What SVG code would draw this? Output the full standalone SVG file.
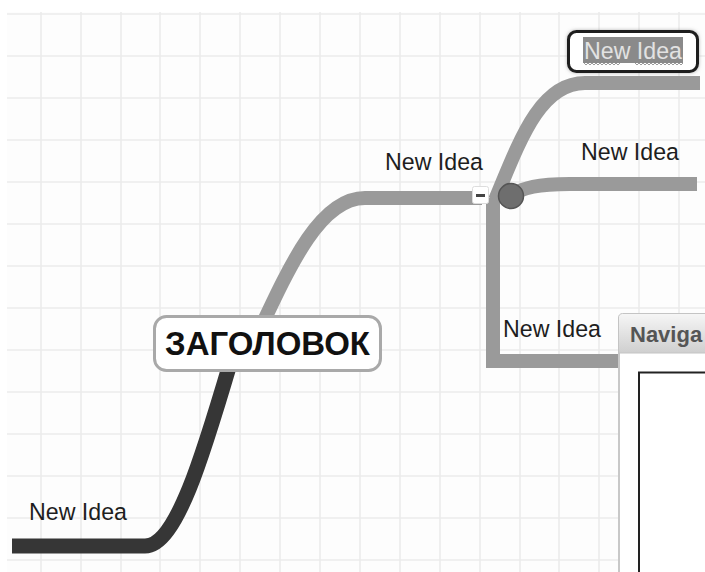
<svg xmlns="http://www.w3.org/2000/svg" width="705" height="572" viewBox="0 0 705 572">
<defs>
<style>
.grid line{stroke:#ebebeb;stroke-width:1.6}
.br{fill:none;stroke:#9a9a9a;stroke-width:14}
.dark{fill:none;stroke:#363636;stroke-width:15}
.lbl{font-family:"Liberation Sans",Arial,sans-serif;font-size:24.5px;fill:#1e1e1e}
</style>
<linearGradient id="tabg" x1="0" y1="0" x2="0" y2="1">
<stop offset="0" stop-color="#f6f6f6"/>
<stop offset="1" stop-color="#cfcfcf"/>
</linearGradient>
<filter id="shadow" x="-20%" y="-30%" width="140%" height="160%">
<feGaussianBlur stdDeviation="2"/>
</filter>
</defs>
<rect width="705" height="572" fill="#ffffff"/>
<rect x="7" y="12" width="698" height="560" fill="#fdfdfd"/>
<g class="grid">
<line x1="7" y1="14" x2="705" y2="14"/><line x1="7" y1="56" x2="705" y2="56"/><line x1="7" y1="98" x2="705" y2="98"/><line x1="7" y1="140" x2="705" y2="140"/><line x1="7" y1="182" x2="705" y2="182"/><line x1="7" y1="224" x2="705" y2="224"/><line x1="7" y1="266" x2="705" y2="266"/><line x1="7" y1="308" x2="705" y2="308"/><line x1="7" y1="350" x2="705" y2="350"/><line x1="7" y1="392" x2="705" y2="392"/><line x1="7" y1="434" x2="705" y2="434"/><line x1="7" y1="476" x2="705" y2="476"/><line x1="7" y1="518" x2="705" y2="518"/><line x1="7" y1="560" x2="705" y2="560"/>
<line x1="41" y1="12" x2="41" y2="572"/><line x1="81" y1="12" x2="81" y2="572"/><line x1="121" y1="12" x2="121" y2="572"/><line x1="160" y1="12" x2="160" y2="572"/><line x1="200" y1="12" x2="200" y2="572"/><line x1="240" y1="12" x2="240" y2="572"/><line x1="280" y1="12" x2="280" y2="572"/><line x1="320" y1="12" x2="320" y2="572"/><line x1="360" y1="12" x2="360" y2="572"/><line x1="400" y1="12" x2="400" y2="572"/><line x1="440" y1="12" x2="440" y2="572"/><line x1="480" y1="12" x2="480" y2="572"/><line x1="520" y1="12" x2="520" y2="572"/><line x1="559" y1="12" x2="559" y2="572"/><line x1="599" y1="12" x2="599" y2="572"/><line x1="639" y1="12" x2="639" y2="572"/><line x1="679" y1="12" x2="679" y2="572"/>
</g>
<g id="connectors">
<path class="dark" d="M12,546 H145 C180,546 210,430 240,330"/>
<path class="br" d="M255,340 C290,265 320,198 365,198 H482"/>
<path class="br" d="M493,198 V361 H630" stroke-linejoin="miter"/>
<path class="br" d="M495,200 C520,140 540,83 585,83 H700"/>
<path class="br" d="M500,200 C525,186 540,184 570,184 H697"/>
</g>
<g id="node-center">
<rect x="154.5" y="316.5" width="226" height="54" rx="12" fill="#ffffff" stroke="#a9a9a9" stroke-width="3"/>
<text x="165" y="355" textLength="205" lengthAdjust="spacingAndGlyphs" font-family="'Liberation Sans',Arial,sans-serif" font-weight="bold" font-size="33px" fill="#111111">ЗАГОЛОВОК</text>
</g>
<g id="node-left">
<text class="lbl" x="29" y="520" textLength="98" lengthAdjust="spacingAndGlyphs">New Idea</text>
</g>
<g id="node-upper">
<text class="lbl" x="385" y="170" textLength="98" lengthAdjust="spacingAndGlyphs">New Idea</text>
</g>
<g id="collapse-toggle">
<rect x="472.5" y="186.5" width="16" height="17" rx="2" fill="#ffffff" stroke="#dddddd"/>
<rect x="476" y="194" width="9" height="3" fill="#444444"/>
</g>
<g id="branch-point">
<circle cx="511" cy="196" r="12.5" fill="#6e6e6e" stroke="#555555" stroke-width="1.5"/>
</g>
<g id="node-top">
<rect x="568" y="31" width="130" height="41" rx="8" fill="#888888" filter="url(#shadow)"/>
<rect x="568.5" y="31.5" width="129" height="40" rx="8" fill="#ffffff" stroke="#1e1e1e" stroke-width="3"/>
<rect x="583" y="37" width="100" height="26" fill="#8a8a8a"/>
<text x="584" y="58.5" textLength="98" lengthAdjust="spacingAndGlyphs" font-family="'Liberation Sans',Arial,sans-serif" font-size="24.5px" fill="#e2e2e2">New Idea</text>
<path d="M584,63 l2,2 l2,-2 l2,2 l2,-2 l2,2 l2,-2 l2,2 l2,-2 l2,2 l2,-2 l2,2 l2,-2 l2,2 l2,-2 l2,2 l2,-2 l2,2 l2,-2 M635,63 l2,2 l2,-2 l2,2 l2,-2 l2,2 l2,-2 l2,2 l2,-2 l2,2 l2,-2 l2,2 l2,-2 l2,2 l2,-2 l2,2 l2,-2 l2,2 l2,-2 l2,2 l2,-2 l2,2 l2,-2 l2,2 l2,-2" fill="none" stroke="#9c9c9c" stroke-width="1"/>
</g>
<g id="node-mid">
<text class="lbl" x="581" y="160" textLength="98" lengthAdjust="spacingAndGlyphs">New Idea</text>
</g>
<g id="node-lower">
<text class="lbl" x="503" y="337" textLength="98" lengthAdjust="spacingAndGlyphs">New Idea</text>
</g>
<g id="navigator">
<rect x="618" y="353" width="90" height="222" fill="#ffffff"/>
<line x1="619" y1="353" x2="619" y2="572" stroke="#c8c8c8" stroke-width="2"/>
<path d="M618.5,353 V318 a4,4 0 0 1 4,-4.5 H710 V353 Z" fill="url(#tabg)" stroke="#c4c4c4" stroke-width="1"/>
<text x="630" y="342" font-family="'Liberation Sans',Arial,sans-serif" font-weight="bold" font-size="22px" fill="#555555">Naviga</text>
<path d="M639,575 V372.5 H710" fill="none" stroke="#222222" stroke-width="2"/>
</g>
</svg>
